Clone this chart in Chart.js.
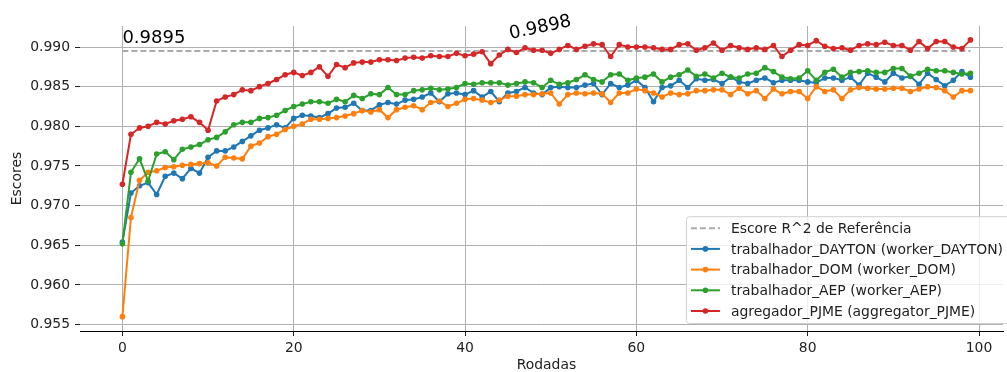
<!DOCTYPE html>
<html>
<head>
<meta charset="utf-8">
<script src="https://cdn.jsdelivr.net/npm/chart.js@4.4.0/dist/chart.umd.min.js"></script>
<style>
  body { margin: 0; background: #fff; }
  #wrap { width: 1007px; height: 372px; }
</style>
</head>
<body>
<div id="wrap"><canvas id="escores"></canvas></div>
<script>
const rounds = Array.from({ length: 100 }, (_, i) => i);

const dayton = [
  0.9654, 0.9716, 0.9725, 0.9729, 0.9714, 0.9737, 0.9741, 0.9734, 0.9747, 0.9741,
  0.9761, 0.9769, 0.9769, 0.9774, 0.9781, 0.9788, 0.9795, 0.9798, 0.9802, 0.9798,
  0.9810, 0.9814, 0.9813, 0.9811, 0.9816, 0.9823, 0.9824, 0.9829, 0.9820, 0.9820,
  0.9827, 0.9830, 0.9828, 0.9833, 0.9834, 0.9837, 0.9842, 0.9831, 0.9841, 0.9842,
  0.9840, 0.9845, 0.9837, 0.9844, 0.9831, 0.9842, 0.9844, 0.9849, 0.9842, 0.9840,
  0.9849, 0.9850, 0.9849, 0.9849, 0.9852, 0.9854, 0.9840, 0.9854, 0.9849, 0.9852,
  0.9858, 0.9849, 0.9831, 0.9849, 0.9851, 0.9858, 0.9849, 0.9860, 0.9858, 0.9859,
  0.9854, 0.9862, 0.9856, 0.9854, 0.9858, 0.9861, 0.9855, 0.9858, 0.9858, 0.9858,
  0.9856, 0.9855, 0.9861, 0.9861, 0.9858, 0.9862, 0.9852, 0.9867, 0.9862, 0.9856,
  0.9867, 0.9861, 0.9863, 0.9853, 0.9867, 0.9859, 0.9851, 0.9858, 0.9869, 0.9862
];

const dom = [
  0.9560, 0.9685, 0.9732, 0.9742, 0.9744, 0.9748, 0.9749, 0.9751, 0.9752, 0.9753,
  0.9754, 0.9750, 0.9761, 0.9760, 0.9759, 0.9775, 0.9779, 0.9787, 0.9790, 0.9796,
  0.9800, 0.9803, 0.9809, 0.9809, 0.9810, 0.9811, 0.9813, 0.9816, 0.9820, 0.9818,
  0.9821, 0.9811, 0.9821, 0.9824, 0.9826, 0.9821, 0.9830, 0.9832, 0.9825, 0.9829,
  0.9834, 0.9835, 0.9833, 0.9830, 0.9833, 0.9838, 0.9838, 0.9840, 0.9840, 0.9841,
  0.9842, 0.9828, 0.9840, 0.9842, 0.9841, 0.9842, 0.9841, 0.9830, 0.9842, 0.9842,
  0.9847, 0.9845, 0.9842, 0.9837, 0.9842, 0.9840, 0.9841, 0.9845, 0.9845, 0.9846,
  0.9846, 0.9840, 0.9848, 0.9841, 0.9845, 0.9835, 0.9847, 0.9841, 0.9844, 0.9844,
  0.9835, 0.9850, 0.9844, 0.9846, 0.9835, 0.9846, 0.9849, 0.9848, 0.9847, 0.9847,
  0.9848, 0.9848, 0.9844, 0.9847, 0.9850, 0.9849, 0.9845, 0.9837, 0.9845, 0.9845
];

const aep = [
  0.9652, 0.9742, 0.9759, 0.9731, 0.9765, 0.9768, 0.9758, 0.9771, 0.9774, 0.9777,
  0.9783, 0.9786, 0.9793, 0.9802, 0.9805, 0.9805, 0.9810, 0.9811, 0.9814, 0.9820,
  0.9825, 0.9828, 0.9831, 0.9831, 0.9829, 0.9834, 0.9831, 0.9839, 0.9835, 0.9841,
  0.9840, 0.9849, 0.9840, 0.9840, 0.9845, 0.9846, 0.9848, 0.9846, 0.9847, 0.9849,
  0.9854, 0.9853, 0.9855, 0.9855, 0.9855, 0.9852, 0.9854, 0.9856, 0.9855, 0.9849,
  0.9858, 0.9853, 0.9855, 0.9859, 0.9865, 0.9859, 0.9856, 0.9865, 0.9866, 0.9858,
  0.9861, 0.9862, 0.9866, 0.9856, 0.9862, 0.9865, 0.9871, 0.9863, 0.9866, 0.9861,
  0.9867, 0.9862, 0.9861, 0.9866, 0.9867, 0.9874, 0.9869, 0.9862, 0.9860, 0.9861,
  0.9870, 0.9858, 0.9868, 0.9872, 0.9862, 0.9868, 0.9869, 0.9870, 0.9868, 0.9868,
  0.9873, 0.9873, 0.9863, 0.9867, 0.9872, 0.9870, 0.9870, 0.9868, 0.9866, 0.9867
];

const pjme = [
  0.9727, 0.9790, 0.9798, 0.9800, 0.9805, 0.9803, 0.9807, 0.9809, 0.9812, 0.9805,
  0.9795, 0.9832, 0.9837, 0.9840, 0.9846, 0.9845, 0.9850, 0.9854, 0.9859, 0.9865,
  0.9868, 0.9864, 0.9868, 0.9875, 0.9863, 0.9878, 0.9874, 0.9880, 0.9881, 0.9881,
  0.9884, 0.9884, 0.9883, 0.9886, 0.9887, 0.9886, 0.9889, 0.9888, 0.9888, 0.9892,
  0.9889, 0.9891, 0.9894, 0.9879, 0.9890, 0.9897, 0.9893, 0.9899, 0.9896, 0.9896,
  0.9892, 0.9897, 0.9902, 0.9897, 0.9901, 0.9904, 0.9903, 0.9888, 0.9903, 0.9900,
  0.9900, 0.9900, 0.9899, 0.9897, 0.9897, 0.9903, 0.9904, 0.9896, 0.9899, 0.9905,
  0.9896, 0.9902, 0.9899, 0.9897, 0.9899, 0.9897, 0.9902, 0.9888, 0.9896, 0.9903,
  0.9902, 0.9908, 0.9901, 0.9898, 0.9899, 0.9896, 0.9902, 0.9904, 0.9903, 0.9906,
  0.9902, 0.9902, 0.9896, 0.9907, 0.9898, 0.9907, 0.9907, 0.9900, 0.9898, 0.9909
];

const referenceScore = 0.9895;
const yTicks = [0.955, 0.960, 0.965, 0.970, 0.975, 0.980, 0.985, 0.990];
const xTicks = [0, 20, 40, 60, 80, 100];

// text notes placed in data coordinates
const refNote = { text: '0.9895', round: 0, score: 0.99047, angle: 0 };
const aggNote = { text: '0.9898', round: 45.3, score: 0.99101, angle: 12 };

const FONT = '"DejaVu Sans", sans-serif';
const FONT_SIZE = 13.9;
Chart.defaults.font.family = FONT;
Chart.defaults.font.size = FONT_SIZE;
Chart.defaults.color = '#222';

function series(label, data, color, order) {
  return {
    label,
    data,
    borderColor: color,
    backgroundColor: color,
    borderWidth: 2,
    pointRadius: 2.8,
    pointBorderWidth: 0,
    pointBackgroundColor: color,
    tension: 0,
    order
  };
}

function drawLegend(chart) {
  const { ctx, chartArea: area } = chart;
  const items = chart.data.datasets;
  ctx.font = FONT_SIZE + 'px ' + FONT;
  const textW = Math.max(...items.map(d => ctx.measureText(d.label).width));
  const rowH = 20.7;
  const w = 45 + textW + 8;
  const h = (items.length - 1) * rowH + 24;
  const right = chart.width + 4;
  const bottom = area.bottom - 8;
  const left = right - w;
  const top = bottom - h;

  ctx.beginPath();
  ctx.roundRect(left + 0.5, top + 0.5, w, h, 3);
  ctx.fillStyle = 'rgba(255,255,255,0.8)';
  ctx.fill();
  ctx.strokeStyle = '#d0d0d0';
  ctx.lineWidth = 1;
  ctx.stroke();

  items.forEach((d, i) => {
    const cy = top + 12 + i * rowH;
    ctx.save();
    ctx.strokeStyle = d.borderColor;
    ctx.lineWidth = d.borderWidth;
    ctx.setLineDash(d.borderDash || []);
    ctx.beginPath();
    ctx.moveTo(left + 5, cy);
    ctx.lineTo(left + 34, cy);
    ctx.stroke();
    ctx.restore();
    if (d.pointRadius > 0) {
      ctx.beginPath();
      ctx.arc(left + 19.5, cy, d.pointRadius, 0, Math.PI * 2);
      ctx.fillStyle = d.borderColor;
      ctx.fill();
    }
    ctx.fillStyle = '#222';
    ctx.textAlign = 'left';
    ctx.textBaseline = 'middle';
    ctx.fillText(d.label, left + 45, cy + 1);
  });
}

const overlay = {
  id: 'overlay',
  afterDraw(chart) {
    const { ctx, scales: { x, y } } = chart;
    ctx.save();
    ctx.fillStyle = '#000';
    ctx.font = '18px ' + FONT;
    ctx.textAlign = 'left';
    ctx.textBaseline = 'alphabetic';
    [refNote, aggNote].forEach(n => {
      ctx.save();
      ctx.translate(x.getPixelForValue(n.round), y.getPixelForValue(n.score));
      ctx.rotate(-n.angle * Math.PI / 180);
      ctx.fillText(n.text, 0, 0);
      ctx.restore();
    });

    // axis title centred on the full round range
    ctx.font = FONT_SIZE + 'px ' + FONT;
    ctx.fillStyle = '#222';
    ctx.textAlign = 'center';
    ctx.fillText('Rodadas', x.getPixelForValue(49.5), 369);

    drawLegend(chart);
    ctx.restore();
  }
};

new Chart(document.getElementById('escores'), {
  type: 'line',
  data: {
    labels: rounds,
    datasets: [
      {
        label: 'Escore R^2 de Referência',
        data: [{ x: 0, y: referenceScore }, { x: 99, y: referenceScore }],
        borderColor: '#aaaaaa',
        borderWidth: 2,
        borderDash: [6, 3],
        pointRadius: 0,
        order: 4
      },
      series('trabalhador_DAYTON (worker_DAYTON)', dayton, '#1f77b4', 3),
      series('trabalhador_DOM (worker_DOM)', dom, '#ff7f0e', 2),
      series('trabalhador_AEP (worker_AEP)', aep, '#2ca02c', 1),
      series('agregador_PJME (aggregator_PJME)', pjme, '#d62728', 0)
    ]
  },
  options: {
    responsive: true,
    maintainAspectRatio: false,
    devicePixelRatio: 1,
    animation: false,
    layout: { padding: { top: 26, right: 0, left: 0, bottom: 0 } },
    plugins: {
      legend: { display: false },
      tooltip: { enabled: false }
    },
    scales: {
      x: {
        type: 'linear',
        min: -4.95,
        max: 102.8,
        afterFit: s => { s.height = 41; },
        afterBuildTicks: s => { s.ticks = xTicks.map(v => ({ value: v })); },
        ticks: { padding: 4, maxRotation: 0, callback: v => String(v) },
        grid: { color: '#b0b0b0', lineWidth: 1, tickLength: 5, tickColor: '#222' },
        border: { display: true, color: '#000', width: 1 }
      },
      y: {
        min: 0.95419,
        max: 0.99265,
        afterFit: s => { s.width = 80; },
        afterBuildTicks: s => { s.ticks = yTicks.map(v => ({ value: v })); },
        ticks: { padding: 5, callback: v => v.toFixed(3) },
        grid: { color: '#b0b0b0', lineWidth: 1, tickLength: 5, tickColor: '#222' },
        border: { display: false },
        title: { display: true, text: 'Escores', padding: { top: 9, bottom: 0 } }
      }
    }
  },
  plugins: [overlay]
});
</script>
</body>
</html>
